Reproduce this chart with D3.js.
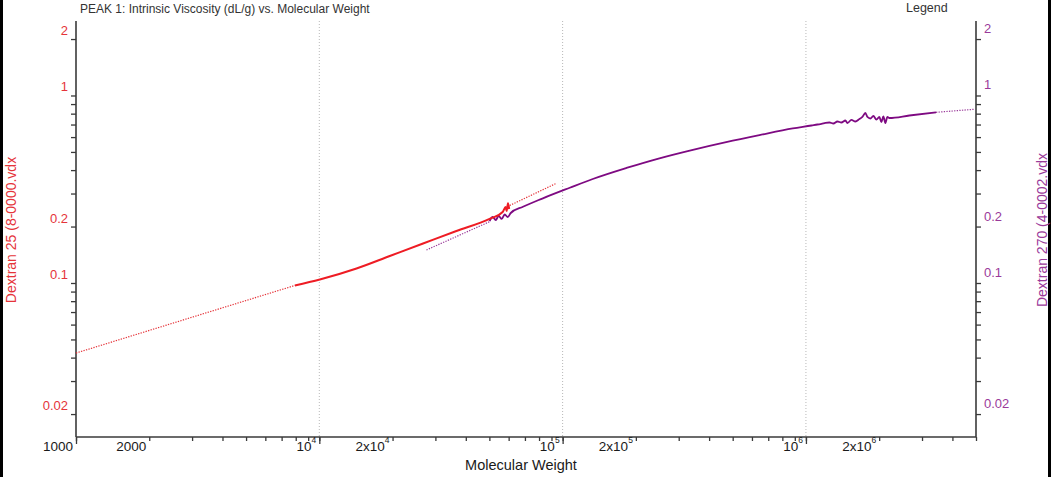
<!DOCTYPE html>
<html><head><meta charset="utf-8">
<script src="https://cdn.jsdelivr.net/npm/d3@7"></script>
<style>
html,body{margin:0;padding:0;background:#fff;}
svg{display:block;}
text{font-family:"Liberation Sans",Arial,Helvetica,sans-serif;}
</style>
</head><body>
<svg id="chart" width="1051" height="477"></svg>
<script>
// ---------- data ----------
const xDomain = [1000, 5e6];
const yDomain = [0.01509, 2.496];

const xMajorTicks = [1e3, 1e4, 1e5, 1e6];
const xTickLabels = [
  {v: 1000, base: "1000", exp: ""},
  {v: 2000, base: "2000", exp: ""},
  {v: 1e4, base: "10", exp: "4"},
  {v: 2e4, base: "2x10", exp: "4"},
  {v: 1e5, base: "10", exp: "5"},
  {v: 2e5, base: "2x10", exp: "5"},
  {v: 1e6, base: "10", exp: "6"},
  {v: 2e6, base: "2x10", exp: "6"}
];
const yTickLabels = [0.02, 0.1, 0.2, 1, 2];
const gridValues = [1e4, 1e5, 1e6];

// Dextran 25 (red, left axis)
const redFitLowM  = [1000, 7930];
const redFitLowIV = [0.0423, 0.0970];
const redM  = [7930, 10050, 14220, 19480, 26690, 36600, 50100, 56700, 58340, 58890, 59620, 60300];
const redIV = [0.0970, 0.1044, 0.1195, 0.1393, 0.1624, 0.1894, 0.2195, 0.2391, 0.2543, 0.2421, 0.2661, 0.2481];
const redFitHighM  = [60600, 94200];
const redFitHighIV = [0.2591, 0.340];

// Dextran 270 (purple, right axis)
const purpleFitLowM  = [27560, 50100];
const purpleFitLowIV = [0.150, 0.2123];
const purpleM = [50100, 51600, 53100, 54600, 56200, 57800, 59500, 61200, 68700, 83000, 107000, 133000, 183000, 250000, 343000, 470000, 644000, 883000,
  1054000, 1115000, 1158000, 1203000, 1249000, 1297000, 1347000, 1399000, 1453000, 1481000, 1538000, 1597000, 1659000,
  1706000, 1755000, 1789000, 1840000, 1893000, 1948000, 2003000, 2042000, 2081000, 2121000, 2161000, 2203000, 2661000, 3424000];
const purpleIV = [0.2142, 0.2249, 0.2168, 0.2277, 0.2195, 0.2319, 0.2249, 0.2362, 0.2551, 0.2829, 0.3220, 0.3587, 0.4106, 0.4625, 0.5133, 0.5641, 0.6150, 0.6676,
  0.6918, 0.7004, 0.7047, 0.7134, 0.7178, 0.7090, 0.7267, 0.7178, 0.7357, 0.7134, 0.7403, 0.7267, 0.7494,
  0.7680, 0.8065, 0.7680, 0.7540, 0.7774, 0.7447, 0.7680, 0.7223, 0.7727, 0.7134, 0.7680, 0.7586, 0.7822, 0.8135];
const purpleFitHighM  = [3424000, 4920000];
const purpleFitHighIV = [0.8135, 0.8441];

// ---------- drawing ----------
(function () {
const svg = d3.select("#chart");
const W = 1051, H = 477;
const pL = 76, pR = 976, pT = 21, pB = 437;

const RED = "#e5343a", RED_LINE = "#ee1c24";
const PURPLE = "#9a3a9a", PURPLE_LINE = "#7e0a82";
const AXIS = "#3a3a3a";

const x = d3.scaleLog().domain(xDomain).range([pL, pR]);
const yL = d3.scaleLog().domain(yDomain).range([pB, pT]);
const yR = d3.scaleLog().domain(yDomain).range([pB, pT]);

svg.append("rect").attr("width", W).attr("height", H).attr("fill", "#fff");

// outer dark frame edges
svg.append("rect").attr("x", 0).attr("y", 0).attr("width", 3).attr("height", H).attr("fill", "#000");
svg.append("rect").attr("x", W - 3).attr("y", 0).attr("width", 3).attr("height", H).attr("fill", "#000");

// grid
svg.append("g").selectAll("line").data(gridValues).join("line")
  .attr("x1", d => x(d)).attr("x2", d => x(d))
  .attr("y1", pT).attr("y2", pB)
  .attr("stroke", "#b8b8b8").attr("stroke-width", 1).attr("stroke-dasharray", "1,2");

const minorY = [];
[0.01, 0.1, 1].forEach(b => { for (let k = 1; k <= 9; k++) { const v = +(b * k).toPrecision(3); if (v >= yDomain[0] && v <= yDomain[1]) minorY.push(v); } });
const minorX = [];
[1e3, 1e4, 1e5, 1e6].forEach(b => { for (let k = 1; k <= 9; k++) { const v = b * k; if (v >= xDomain[0] && v <= xDomain[1]) minorX.push(v); } });

const gx = svg.append("g").attr("transform", `translate(0,${pB})`)
  .call(d3.axisBottom(x).tickValues(minorX).tickSize(4).tickFormat(""));
const gxMaj = svg.append("g").attr("transform", `translate(0,${pB})`)
  .call(d3.axisBottom(x).tickValues(xMajorTicks).tickSize(7).tickFormat(""));
const gl = svg.append("g").attr("transform", `translate(${pL},0)`)
  .call(d3.axisLeft(yL).tickValues(minorY).tickSize(5).tickFormat(""));
const gr = svg.append("g").attr("transform", `translate(${pR},0)`)
  .call(d3.axisRight(yR).tickValues(minorY).tickSize(5).tickFormat(""));
[gx, gxMaj, gl, gr].forEach(g => {
  g.select(".domain").attr("stroke", AXIS).attr("stroke-width", 1.6);
  g.selectAll(".tick line").attr("stroke", AXIS).attr("stroke-width", 1.3);
});
gxMaj.select(".domain").remove();
gx.select(".domain").attr("d", `M${pL},0H${pR}`);
gl.select(".domain").attr("d", `M0,${pT}V${pB}`);
gr.select(".domain").attr("d", `M0,${pT}V${pB}`);

// x labels
const xl = svg.append("g").selectAll("text").data(xTickLabels).join("text")
  .attr("x", d => x(d.v) - 3).attr("y", 451)
  .attr("text-anchor", "end").attr("font-size", 13.5).attr("fill", "#1a1a1a");
xl.append("tspan").text(d => d.base);
xl.filter(d => d.exp).append("tspan").attr("dy", -8).attr("font-size", 8.5).text(d => d.exp);

svg.append("text").attr("x", 521).attr("y", 470).attr("text-anchor", "middle")
  .attr("font-size", 14.5).attr("fill", "#1a1a1a").text("Molecular Weight");

// y labels
svg.append("g").selectAll("text").data(yTickLabels).join("text")
  .attr("x", 68).attr("y", d => yL(d) - 4).attr("text-anchor", "end")
  .attr("font-size", 13).attr("fill", RED).text(d => String(d));
svg.append("g").selectAll("text").data(yTickLabels).join("text")
  .attr("x", 984).attr("y", d => yR(d) - 6).attr("text-anchor", "start")
  .attr("font-size", 13).attr("fill", PURPLE).text(d => String(d));

svg.append("text").attr("transform", `translate(16,230) rotate(-90)`).attr("text-anchor", "middle")
  .attr("font-size", 14).attr("fill", RED).text("Dextran 25 (8-0000.vdx");
svg.append("text").attr("transform", `translate(1047,230) rotate(-90)`).attr("text-anchor", "middle")
  .attr("font-size", 14).attr("fill", PURPLE).text("Dextran 270 (4-0002.vdx");

// titles
svg.append("text").attr("x", 80).attr("y", 13).attr("font-size", 12).attr("fill", "#333")
  .text("PEAK 1: Intrinsic Viscosity (dL/g) vs. Molecular Weight");
svg.append("text").attr("x", 906).attr("y", 12).attr("font-size", 12.5).attr("fill", "#333").text("Legend");

// series
const zip = (a, b) => a.map((v, i) => [v, b[i]]);
const lineL = d3.line().x(d => x(d[0])).y(d => yL(d[1])).curve(d3.curveMonotoneX);
const lineR = d3.line().x(d => x(d[0])).y(d => yR(d[1])).curve(d3.curveMonotoneX);

const plot = svg.append("g");
const dotted = (data, gen, col) => plot.append("path").datum(data).attr("d", gen)
  .attr("fill", "none").attr("stroke", col).attr("stroke-width", 1.2).attr("stroke-dasharray", "1.3,1.3");
dotted(zip(redFitLowM, redFitLowIV), lineL, RED);
dotted(zip(redFitHighM, redFitHighIV), lineL, RED);
dotted(zip(purpleFitLowM, purpleFitLowIV), lineR, PURPLE);
dotted(zip(purpleFitHighM, purpleFitHighIV), lineR, PURPLE);
plot.append("path").datum(zip(purpleM, purpleIV)).attr("d", lineR)
  .attr("fill", "none").attr("stroke", PURPLE_LINE).attr("stroke-width", 1.8).attr("stroke-linejoin", "round");
plot.append("path").datum(zip(redM, redIV)).attr("d", lineL)
  .attr("fill", "none").attr("stroke", RED_LINE).attr("stroke-width", 2).attr("stroke-linejoin", "round");
})();
</script>
</body></html>
